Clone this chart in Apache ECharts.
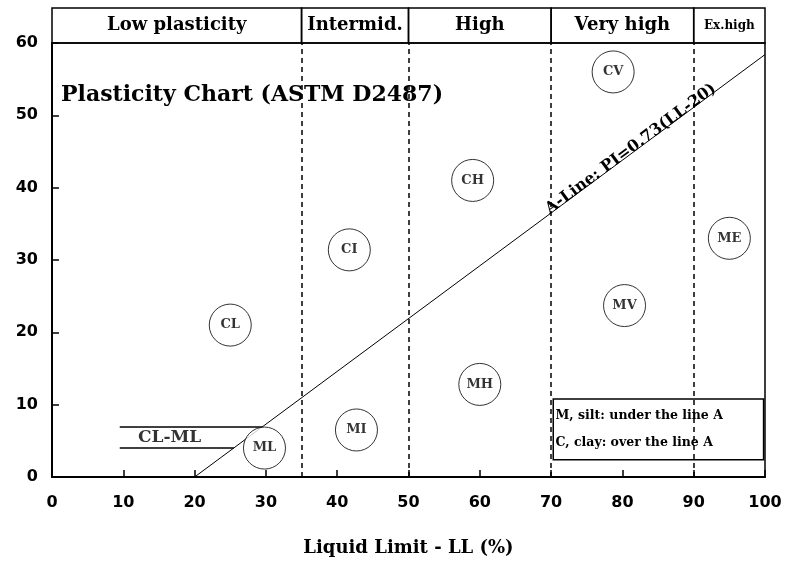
<!DOCTYPE html>
<html><head><meta charset="utf-8">
<script src="https://cdn.jsdelivr.net/npm/echarts@6/dist/echarts.min.js"></script>
<style>html,body{margin:0;padding:0;background:#fff}#c{width:785px;height:566px}</style>
</head><body><div id="c"></div>
<script>
const groups = ['CL','CI','CH','CV','ML','MI','MH','MV','ME'];
const groupLL = [25, 41.7, 59, 78.7, 29.8, 42.7, 60, 80.3, 95];
const groupPI = [21, 31.4, 41, 56, 4, 6.5, 12.8, 23.7, 33];
const zoneEdges = [0, 35, 50, 70, 90, 100];
const zoneNames = ['Low plasticity', 'Intermid.', 'High', 'Very high', 'Ex.high'];
const aLineLL = [20, 100];
const aLinePI = [0, 58.4];
const clmlPI = [4, 7];
const clmlStartLL = [9.5, 9.5];
const clmlEndLL = [25.5, 29.5];
const xTicks = [0, 10, 20, 30, 40, 50, 60, 70, 80, 90, 100];
const yTicks = [0, 10, 20, 30, 40, 50, 60];
const noteLines = ['M, silt: under the line A', 'C, clay: over the line A'];
const noteBox = {ll: [70.3, 99.8], pi: [2.4, 10.8]};

const serif = 'DejaVu Serif';
const chart = echarts.init(document.getElementById('c'));

const bandData = zoneNames.map((n, i) => [
  {name: n, xAxis: zoneEdges[i], yAxis: 0},
  {xAxis: zoneEdges[i + 1], yAxis: 1}
]);

chart.setOption({
  backgroundColor: '#fff',
  animation: false,
  title: {
    text: 'Plasticity Chart (ASTM D2487)',
    left: 56, top: 79,
    textStyle: {fontFamily: serif, fontWeight: 'bold', fontSize: 22, color: '#000'}
  },
  grid: [
    {left: 52, right: 20, top: 43, bottom: 89, show: true, borderColor: '#000', borderWidth: 1.5},
    {left: 52, right: 20, top: 8, height: 35, show: false}
  ],
  xAxis: [
    {
      type: 'value', min: 0, max: 100, interval: 10, gridIndex: 0,
      name: 'Liquid Limit - LL (%)', nameLocation: 'middle', nameGap: 62,
      nameTextStyle: {fontFamily: serif, fontWeight: 'bold', fontSize: 18, color: '#000'},
      axisLine: {show: true, lineStyle: {color: '#000', width: 2}},
      axisTick: {show: true, inside: true, length: 7, lineStyle: {color: '#000', width: 1.5}},
      axisLabel: {margin: 18, fontFamily: 'DejaVu Sans', fontWeight: 'bold', fontSize: 16, color: '#000',
        formatter: v => xTicks.includes(v) ? String(v) : ''},
      splitLine: {show: false}
    },
    {type: 'value', min: 0, max: 100, gridIndex: 1, show: false}
  ],
  yAxis: [
    {
      type: 'value', min: 0, max: 60, interval: 10, gridIndex: 0,
      axisLine: {show: true, lineStyle: {color: '#000', width: 2}},
      axisTick: {show: true, inside: true, length: 7, lineStyle: {color: '#000', width: 1.5}},
      axisLabel: {margin: 14, fontFamily: 'DejaVu Sans', fontWeight: 'bold', fontSize: 16, color: '#000',
        formatter: v => yTicks.includes(v) ? String(v) : ''},
      splitLine: {show: false}
    },
    {type: 'value', min: 0, max: 1, gridIndex: 1, show: false}
  ],
  series: [
    {
      type: 'line', xAxisIndex: 1, yAxisIndex: 1, data: [], silent: true,
      markArea: {
        silent: true,
        itemStyle: {color: 'rgba(0,0,0,0)', borderColor: '#000', borderWidth: 1.5},
        label: {show: true, position: 'inside', fontFamily: serif, fontWeight: 'bold', fontSize: 18, color: '#000'},
        data: bandData.map((d, i) => i === 4 ? [Object.assign({}, d[0], {label: {fontSize: 12}}), d[1]] : d)
      }
    },
    {
      type: 'line', data: [], silent: true, z: 1,
      markLine: {
        silent: true, symbol: 'none', label: {show: false},
        lineStyle: {color: '#000', width: 1.5, type: [5, 4]},
        data: zoneEdges.slice(1, -1).map(v => ({xAxis: v}))
      }
    },
    {
      type: 'line', data: [], silent: true, z: 3,
      markLine: {
        silent: true, symbol: 'none',
        lineStyle: {color: '#000', width: 1, type: 'solid'},
        label: {show: true, formatter: 'A-Line: PI=0.73(LL-20)', position: 'insideEndTop', distance: [60, -4],
          fontFamily: serif, fontWeight: 'bold', fontSize: 16, color: '#000'},
        data: [[{coord: [aLineLL[0], aLinePI[0]]}, {coord: [aLineLL[1], aLinePI[1]]}]]
      }
    },
    {
      type: 'line', data: [], silent: true, z: 3,
      markLine: {
        silent: true, symbol: 'none', label: {show: false},
        lineStyle: {color: '#000', width: 1.5, type: 'solid'},
        data: clmlPI.map((p, i) => [{coord: [clmlStartLL[i], p]}, {coord: [clmlEndLL[i], p]}])
      }
    },
    {
      type: 'scatter', symbolSize: 1, silent: true, z: 3,
      itemStyle: {color: 'rgba(0,0,0,0)'},
      label: {show: true, position: 'inside', formatter: 'CL-ML', fontFamily: serif, fontWeight: 'bold', fontSize: 17, color: '#000'},
      data: [[16.5, (clmlPI[0] + clmlPI[1]) / 2]]
    },
    {
      type: 'line', data: [], silent: true, z: 6,
      markArea: {
        silent: true,
        itemStyle: {color: '#fff', borderColor: '#000', borderWidth: 1.5},
        label: {show: true, position: 'insideLeft', distance: 3, fontFamily: serif, fontWeight: 'bold', fontSize: 12.5,
          lineHeight: 27, padding: [0, 0, 8, 0], color: '#000', formatter: noteLines.join('\n')},
        data: [[{xAxis: noteBox.ll[0], yAxis: noteBox.pi[0]}, {xAxis: noteBox.ll[1], yAxis: noteBox.pi[1]}]]
      }
    },
    {
      type: 'scatter', symbol: 'circle', symbolSize: 42, z: 5,
      itemStyle: {color: '#fff', borderColor: '#000', borderWidth: 1},
      label: {show: true, position: 'inside', formatter: p => p.data[2], fontFamily: serif, fontWeight: 'bold', fontSize: 13, color: '#000'},
      data: groups.map((g, i) => [groupLL[i], groupPI[i], g])
    }
  ]
});
</script></body></html>
